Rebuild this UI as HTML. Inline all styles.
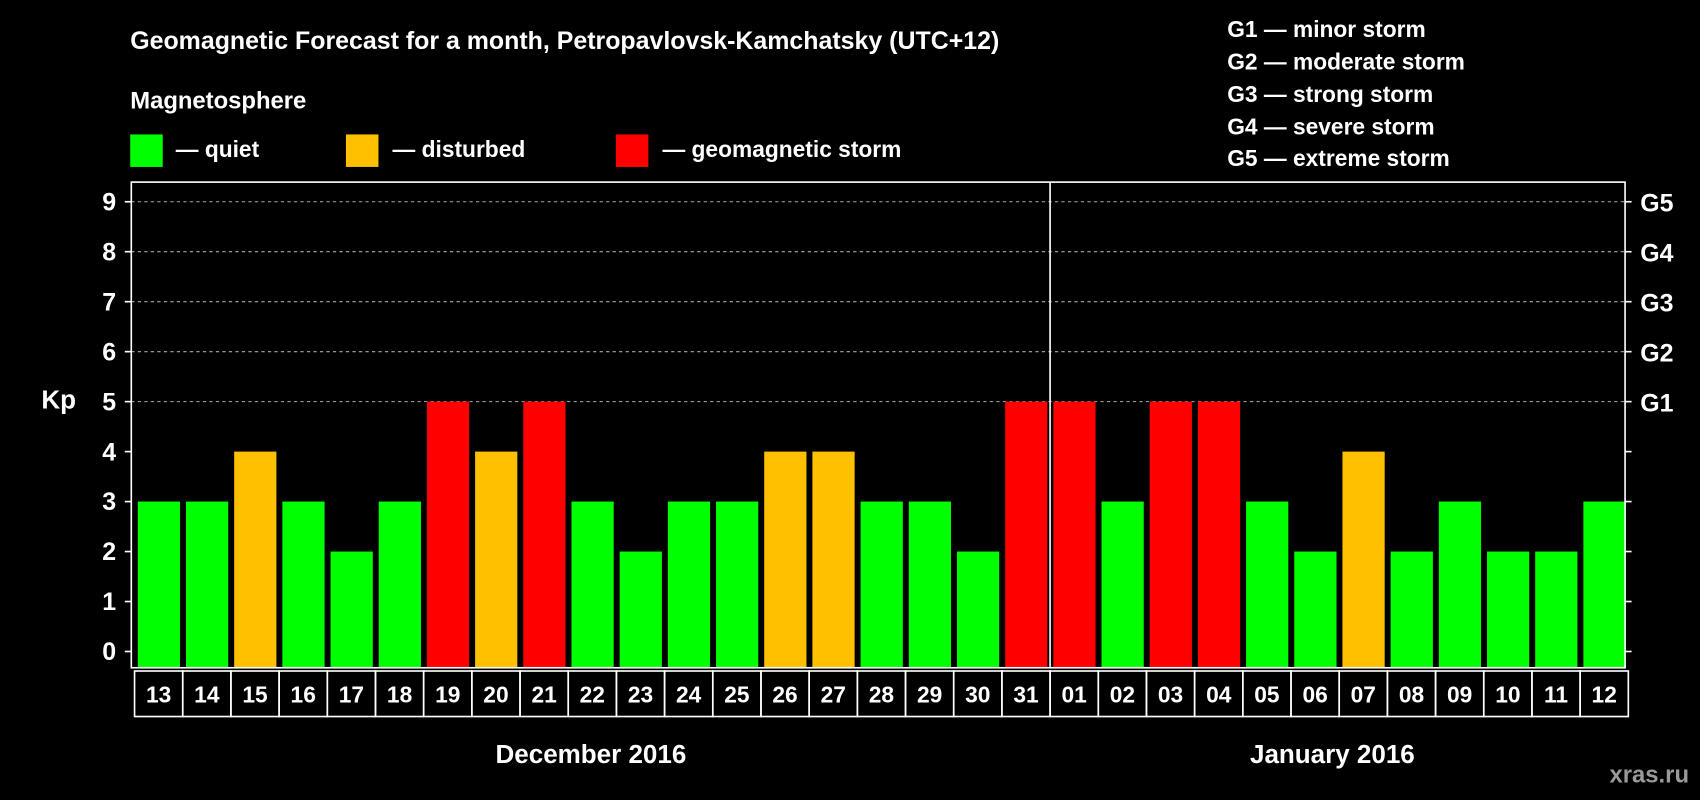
<!DOCTYPE html>
<html><head><meta charset="utf-8"><style>
html,body{margin:0;padding:0;background:#000;}
svg{display:block;font-family:"Liberation Sans",Arial,sans-serif;font-weight:bold;}
</style></head><body>
<svg id="chart" width="1700" height="800" viewBox="0 0 1568 738" xmlns="http://www.w3.org/2000/svg">
<rect x="0" y="0" width="1568" height="738" fill="#000"/>
<text x="120" y="45" fill="#fff" font-size="23">Geomagnetic Forecast for a month, Petropavlovsk-Kamchatsky (UTC+12)</text>
<text x="120" y="100" fill="#fff" font-size="22">Magnetosphere</text>
<rect x="120" y="124" width="30" height="30" fill="#00ff00"/>
<text x="162" y="145" fill="#fff" font-size="21">— quiet</text>
<rect x="319" y="124" width="30" height="30" fill="#ffc000"/>
<text x="362" y="145" fill="#fff" font-size="21">— disturbed</text>
<rect x="568" y="124" width="30" height="30" fill="#ff0000"/>
<text x="611" y="145" fill="#fff" font-size="21">— geomagnetic storm</text>
<g fill="#fff" font-size="21">
<text x="1132" y="34">G1 — minor storm</text>
<text x="1132" y="64">G2 — moderate storm</text>
<text x="1132" y="94">G3 — strong storm</text>
<text x="1132" y="124">G4 — severe storm</text>
<text x="1132" y="153">G5 — extreme storm</text>
</g>
<text x="38" y="377" fill="#fff" font-size="24">Kp</text>
<text x="545" y="704" fill="#fff" font-size="24" text-anchor="middle">December 2016</text>
<text x="1229" y="704" fill="#fff" font-size="24" text-anchor="middle">January 2016</text>
<text x="1558" y="722" fill="#9a9a9a" font-size="22" text-anchor="end">xras.ru</text>
<g id="plot"></g>
</svg>
<script>
const days = ["13","14","15","16","17","18","19","20","21","22","23","24","25","26","27","28","29","30","31","01","02","03","04","05","06","07","08","09","10","11","12"];
const kpValues = [3,3,4,3,2,3,5,4,5,3,2,3,3,4,4,3,3,2,5,5,3,5,5,3,2,4,2,3,2,2,3];
const yTicks = [0,1,2,3,4,5,6,7,8,9];
const gLabels = ["G1","G2","G3","G4","G5"];
const gLevels = [5,6,7,8,9];

const NS = "http://www.w3.org/2000/svg";
const plot = document.getElementById("plot");
const L = 121, R = 1499, T = 168, B = 616;
const slot = (R - L) / days.length;
const y = v => 601 - v * 46.1;
const x = i => L + i * slot;
function mk(tag, attrs){const e=document.createElementNS(NS,tag);for(const k in attrs)e.setAttribute(k,attrs[k]);plot.appendChild(e);return e;}
function color(v){return v>=5?"#ff0000":(v>=4?"#ffc000":"#00ff00");}

yTicks.forEach(t=>{
  if(t>=5){const g=mk("line",{x1:L,x2:R,y1:y(t),y2:y(t),stroke:"#aaa","stroke-width":1,"stroke-dasharray":"3,3"});
    
    }
  const tl=mk("line",{x1:L-6,x2:L,y1:y(t),y2:y(t),stroke:"#fff","stroke-width":1.5});
  
  
  const tr=mk("line",{x1:R,x2:R+6,y1:y(t),y2:y(t),stroke:"#fff","stroke-width":1.5});
  
  
  const lb=mk("text",{x:L-14,y:y(t)+8,fill:"#fff","font-size":23,"text-anchor":"end"});
  lb.textContent=t;
  
  
});
gLabels.forEach((g,i)=>{
  const lb=mk("text",{x:R+14,y:y(gLevels[i])+9,fill:"#fff","font-size":23});
  lb.textContent=g;
  
  
});
kpValues.forEach((v,i)=>{
  const b=mk("rect",{x:x(i)+6,y:y(v),width:slot-5.5,height:B-y(v),fill:color(v)});
  
  
  const c=mk("rect",{x:x(i)+3,y:B+3,width:slot,height:42,fill:"none",stroke:"#fff","stroke-width":1.5});
  
  
  const t=mk("text",{x:x(i)+3+slot/2,y:B+32,fill:"#fff","font-size":21,"text-anchor":"middle"});
  t.textContent=days[i];
  
  
});
const ax=mk("rect",{x:L,y:T,width:R-L,height:B-T,fill:"none",stroke:"#fff","stroke-width":1.5});


const di=days.indexOf("01");
const dv=mk("line",{x1:x(di)+3,x2:x(di)+3,y1:T,y2:B,stroke:"#fff","stroke-width":1.5});


</script>
</body></html>
